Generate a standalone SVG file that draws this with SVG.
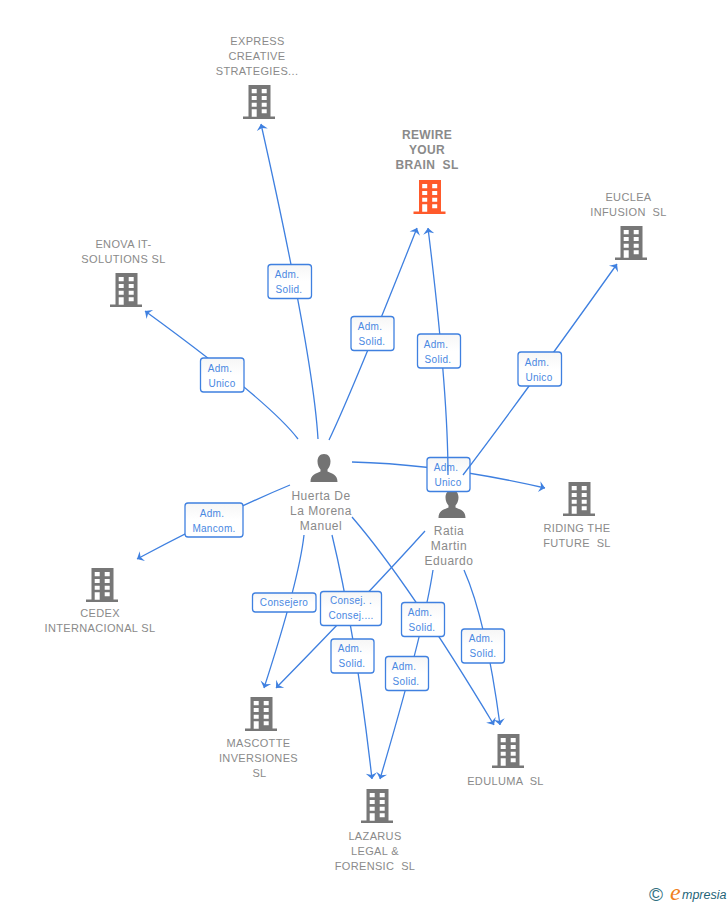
<svg xmlns="http://www.w3.org/2000/svg" width="728" height="905" viewBox="0 0 728 905">
<style>
.n{font-family:"Liberation Sans",Arial,sans-serif;font-size:11px;fill:#8a8a8a;text-anchor:middle;letter-spacing:.35px;white-space:pre}
.b{font-weight:bold;font-size:12px}
.p{font-size:12px;letter-spacing:.5px}
.c{fill:none;stroke:#3f80e0;stroke-width:1.3;marker-end:url(#a)}
.l rect{fill:url(#g);stroke:#3f80e0;stroke-width:1.3}
.l text{font-family:"Liberation Sans",Arial,sans-serif;font-size:10px;fill:#4a88e2;text-anchor:middle;letter-spacing:.3px}
</style>
<defs>
<linearGradient id="g" x1="0" y1="0" x2="0" y2="1"><stop offset="0" stop-color="#f6f6f6"/><stop offset=".5" stop-color="#fff"/></linearGradient>
<marker id="a" markerUnits="userSpaceOnUse" markerWidth="14" markerHeight="14" refX="7" refY="7" orient="auto" overflow="visible"><path d="M7,7 L1,1.400 L3,7 L1,12.600 Z" fill="#3f80e0"/></marker>
<symbol id="bld" width="32" height="34" viewBox="0 0 32 34" overflow="visible">
<path fill-rule="evenodd" d="M5.500,0H27.500V31.500H32V34H0V31.500H5.500ZM8.700,4v4.300h5v-4.300ZM18.700,4v4.300h5v-4.300ZM8.700,11v4h5v-4ZM18.700,11v4h5v-4ZM8.700,17.700v4h5v-4ZM18.700,17.700v4h5v-4ZM8.700,24.300v7.400h5v-7.400ZM18.700,24.300v4h5v-4Z"/>
</symbol>
<symbol id="psn" width="28" height="28" viewBox="0 0 28 28" overflow="visible">
<path fill="#737373" d="M14,0C18.500,0 20.500,3.500 20.500,7.500C20.500,11 19,14 17.500,15.500V17.500C22,19.500 27.500,20.500 27.500,28H0.500C0.500,20.500 6,19.500 10.500,17.500V15.500C9,14 7.500,11 7.500,7.500C7.500,3.500 9.500,0 14,0Z"/>
</symbol>
</defs>
<rect width="728" height="905" fill="#fff"/>
<g id="connectors">
<path class="c" d="M318,439Q313,355 261,124"/>
<path class="c" d="M298,439Q270,402 145,311"/>
<path class="c" d="M329,440Q352,392 417,228"/>
<path class="c" d="M352,462Q440,464 545,488"/>
<path class="c" d="M290,485Q225,512 137,559"/>
<path class="c" d="M304,535Q299,580 264,688"/>
<path class="c" d="M425,531Q370,592 276,688"/>
<path class="c" d="M332,535Q355,630 372,779"/>
<path class="c" d="M433,570Q424,630 380,779"/>
<path class="c" d="M352,517Q408,582 494,725"/>
<path class="c" d="M464,570Q486,620 500,725"/>
</g>
<g id="express"><use href="#bld" x="243" y="85" fill="#777"/><text class="n"><tspan x="257.500" y="45">EXPRESS</tspan><tspan x="257" y="60">CREATIVE</tspan><tspan x="257" y="75">STRATEGIES...</tspan></text></g>
<g id="rewire"><use href="#bld" x="413.500" y="180" fill="#ff5a2b"/><text class="n b"><tspan x="427" y="139">REWIRE</tspan><tspan x="427" y="154">YOUR</tspan><tspan x="427" y="169">BRAIN  SL</tspan></text></g>
<g id="euclea"><use href="#bld" x="615" y="226" fill="#777"/><text class="n"><tspan x="628.500" y="201">EUCLEA</tspan><tspan x="628.500" y="216">INFUSION  SL</tspan></text></g>
<g id="enova"><use href="#bld" x="110" y="273" fill="#777"/><text class="n"><tspan x="123.500" y="248">ENOVA IT-</tspan><tspan x="123.500" y="263">SOLUTIONS SL</tspan></text></g>
<g id="riding"><use href="#bld" x="563" y="482" fill="#777"/><text class="n"><tspan x="577" y="532">RIDING THE</tspan><tspan x="577" y="547">FUTURE  SL</tspan></text></g>
<g id="cedex"><use href="#bld" x="86" y="568" fill="#777"/><text class="n"><tspan x="100" y="617">CEDEX</tspan><tspan x="100" y="632">INTERNACIONAL SL</tspan></text></g>
<g id="mascotte"><use href="#bld" x="245" y="697" fill="#777"/><text class="n"><tspan x="258.500" y="747">MASCOTTE</tspan><tspan x="258.500" y="762">INVERSIONES</tspan><tspan x="259.500" y="777">SL</tspan></text></g>
<g id="lazarus"><use href="#bld" x="361" y="789" fill="#777"/><text class="n"><tspan x="375" y="840">LAZARUS</tspan><tspan x="375" y="855">LEGAL &amp;</tspan><tspan x="375" y="870">FORENSIC  SL</tspan></text></g>
<g id="eduluma"><use href="#bld" x="492" y="734" fill="#777"/><text class="n"><tspan x="505.500" y="785">EDULUMA  SL</tspan></text></g>
<g id="huerta"><use href="#psn" x="310" y="454"/><text class="n p"><tspan x="321" y="500">Huerta De</tspan><tspan x="321" y="515">La Morena</tspan><tspan x="321" y="530">Manuel</tspan></text></g>
<g id="ratia"><use href="#psn" x="438" y="490"/><text class="n p"><tspan x="449" y="535">Ratia</tspan><tspan x="449" y="550">Martin</tspan><tspan x="449" y="565">Eduardo</tspan></text></g>
<g class="l" id="label-unico-ratia"><rect x="427" y="457.500" width="43" height="34" rx="3"/><text><tspan x="446" y="471">Adm.</tspan><tspan x="448" y="486">Unico</tspan></text></g>
<g id="connectors-over">
<path class="c" d="M448,475Q448,390 428,228"/>
<path class="c" d="M463,475Q520,400 617,264"/>
</g>
<g id="labels">
<g class="l"><rect x="268" y="264.500" width="43.500" height="34" rx="3"/><text><tspan x="287" y="278">Adm.</tspan><tspan x="289" y="293">Solid.</tspan></text></g>
<g class="l"><rect x="200.500" y="358" width="43.500" height="34" rx="3"/><text><tspan x="220" y="372">Adm.</tspan><tspan x="222" y="387">Unico</tspan></text></g>
<g class="l"><rect x="351" y="316.500" width="43" height="34" rx="3"/><text><tspan x="370" y="330">Adm.</tspan><tspan x="372" y="345">Solid.</tspan></text></g>
<g class="l"><rect x="417.500" y="334" width="43" height="34" rx="3"/><text><tspan x="436" y="348">Adm.</tspan><tspan x="438" y="363">Solid.</tspan></text></g>
<g class="l"><rect x="518" y="352" width="43.500" height="34" rx="3"/><text><tspan x="537" y="366">Adm.</tspan><tspan x="539" y="381">Unico</tspan></text></g>
<g class="l"><rect x="185" y="503" width="58" height="34" rx="3"/><text><tspan x="212" y="517">Adm.</tspan><tspan x="214" y="532">Mancom.</tspan></text></g>
<g class="l"><rect x="252.500" y="593" width="63.500" height="19" rx="3"/><text><tspan x="284" y="606">Consejero</tspan></text></g>
<g class="l"><rect x="320.500" y="591.500" width="61" height="34" rx="3"/><text><tspan x="351" y="604">Consej. .</tspan><tspan x="351" y="619">Consej....</tspan></text></g>
<g class="l"><rect x="331" y="639" width="43" height="34" rx="3"/><text><tspan x="350" y="652">Adm.</tspan><tspan x="352" y="667">Solid.</tspan></text></g>
<g class="l"><rect x="401.500" y="602.500" width="43" height="34" rx="3"/><text><tspan x="420" y="616">Adm.</tspan><tspan x="422" y="631">Solid.</tspan></text></g>
<g class="l"><rect x="385.500" y="656.500" width="43" height="34" rx="3"/><text><tspan x="404" y="670">Adm.</tspan><tspan x="406" y="685">Solid.</tspan></text></g>
<g class="l"><rect x="461.500" y="629" width="43" height="34" rx="3"/><text><tspan x="481" y="642">Adm.</tspan><tspan x="483" y="657">Solid.</tspan></text></g>
</g>
<g id="logo"><text x="649" y="901" font-family="'Liberation Sans',sans-serif" font-size="19" fill="#2f6f80">©</text><text x="670" y="900" font-family="'Liberation Serif',serif" font-style="italic" font-size="24" fill="#f08020">e</text><text x="682" y="899" font-family="'Liberation Sans',sans-serif" font-style="italic" font-size="12.500" fill="#1f6478">mpresia</text></g>
</svg>
